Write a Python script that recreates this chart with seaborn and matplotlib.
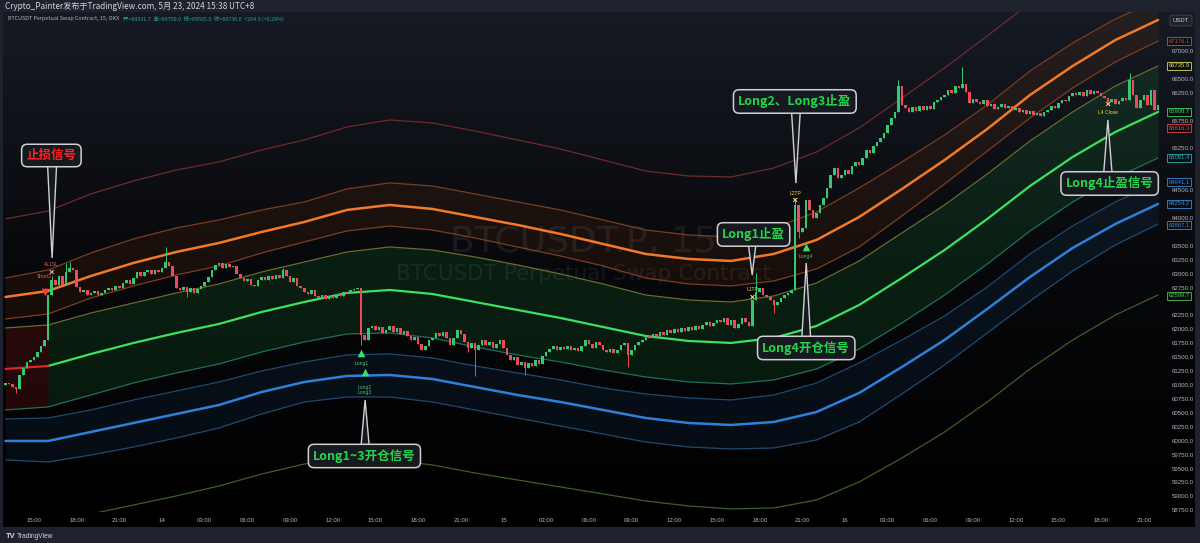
"""BTCUSDT.P 15m chart with multi-band envelope and signal callouts (TradingView style)."""

import numpy as np
import matplotlib
matplotlib.use("Agg")
import matplotlib.pyplot as plt
import matplotlib.transforms as mtransforms
from matplotlib.colors import LinearSegmentedColormap
from matplotlib.patches import Polygon
import seaborn as sns

# ---------------- data ----------------
# 15-minute closes, bar 0 = May 13 13:00
CLOSES = [
    61037, 61019, 60965, 60929, 61181, 61307, 61414, 61450, 61504, 61594, 61702, 61810,
    62618, 62887, 62797, 62959, 62797, 63031, 63103, 63067, 62761, 62672, 62708, 62618,
    62654, 62690, 62618, 62654, 62708, 62744, 62708, 62779, 62744, 62833, 62887, 62815,
    62923, 63031, 62959, 63031, 63067, 62995, 63067, 63031, 63103, 63211, 63139, 62959,
    62744, 62708, 62761, 62672, 62744, 62654, 62726, 62779, 62851, 62941, 63067, 63157,
    63193, 63103, 63175, 63121, 63139, 62995, 62923, 62869, 62905, 62797, 62779, 62887,
    62941, 62887, 62959, 62905, 62977, 62923, 63067, 62959, 62851, 62923, 62779, 62744,
    62672, 62636, 62708, 62600, 62564, 62618, 62546, 62600, 62564, 62636, 62600, 62672,
    62654, 62708, 62726, 62744, 61899, 61810, 62025, 62061, 61989, 62043, 61935, 61989,
    62061, 61953, 62025, 61917, 61971, 61881, 61810, 61863, 61738, 61630, 61702, 61810,
    61845, 61935, 61881, 61953, 61845, 61720, 61845, 61989, 61917, 61774, 61666, 61756,
    61630, 61720, 61810, 61720, 61774, 61666, 61738, 61810, 61666, 61540, 61450, 61504,
    61361, 61414, 61307, 61396, 61343, 61450, 61379, 61522, 61594, 61648, 61702, 61630,
    61684, 61648, 61702, 61630, 61666, 61612, 61702, 61810, 61738, 61666, 61774, 61720,
    61630, 61594, 61648, 61576, 61630, 61720, 61756, 61540, 61630, 61720, 61774, 61810,
    61881, 61845, 61917, 61881, 61953, 61899, 61989, 61935, 62007, 61953, 62025, 61971,
    62043, 61989, 62061, 62007, 62079, 62133, 62061, 62115, 62169, 62133, 62205, 62079,
    62169, 62025, 62097, 62205, 62133, 62061, 62528, 62672, 62744, 62618, 62582, 62528,
    62438, 62492, 62564, 62618, 62654, 62708, 64234, 63749, 63821, 64324, 64144, 64001,
    64090, 64234, 64360, 64540, 64773, 64899, 64719, 64773, 64863, 64791, 64935, 65006,
    64953, 65078, 65222, 65168, 65294, 65366, 65438, 65527, 65671, 65797, 65904, 66371,
    66030, 65976, 65904, 65994, 65922, 66012, 65940, 66012, 65958, 66084, 66120, 66174,
    66210, 66300, 66246, 66371, 66336, 66407, 66264, 66066, 66138, 66084, 66048, 66120,
    66012, 66048, 65958, 65994, 66048, 65976, 66012, 65940, 65976, 65904, 65940, 65869,
    65922, 65851, 65886, 65833, 65904, 65940, 66012, 65976, 66066, 66120, 66102, 66192,
    66246, 66210, 66264, 66192, 66300, 66228, 66282, 66246, 66192, 66156, 66084, 66138,
    66048, 66102, 66156, 66120, 66479, 66210, 65976, 66120, 66210, 66030, 66300, 65940,
    66030,
]
OPEN_0 = 61000
WICK_HI = {13: 62960, 17: 63193, 18: 63211, 45: 63480, 78: 63103, 211: 63013,
           222: 64360, 251: 66479, 269: 66713, 316: 66605}
WICK_LO = {3: 60858, 51: 62582, 100: 61720, 130: 61600, 132: 61163, 146: 61181,
           175: 61325, 216: 62294, 223: 63640}

# envelope: centre line and half-widths, sampled every 3 hours
BAND_BARS = list(range(0, 325, 12))
MID = [61289, 61343, 61558, 61756, 61935, 62097, 62312, 62492, 62654, 62708,
       62636, 62492, 62348, 62205, 62043, 61881, 61792, 61756, 61846, 62061,
       62439, 62923, 63426, 63983, 64575, 65096, 65545, 65905]
W_GREEN = [736, 736, 736, 718, 718, 718, 718, 718, 736, 772, 790, 808, 808, 790,
           772, 736, 736, 736, 754, 772, 790, 808, 808, 808, 808, 808, 826, 826]
W_INNER = [898, 934, 1006, 1024, 1042, 1042, 1060, 1078, 1114, 1149, 1149, 1149, 1131, 1114,
           1096, 1042, 1024, 1024, 1024, 1024, 1042, 1114, 1185, 1221, 1221, 1239, 1257, 1275]
W_THICK = [1293, 1347, 1401, 1437, 1455, 1455, 1437, 1437, 1491, 1527, 1527, 1527, 1527, 1509,
           1491, 1473, 1473, 1473, 1509, 1545, 1580, 1598, 1616, 1616, 1634, 1634, 1652, 1652]
W_OUTER = [1634, 1724, 1814, 1868, 1886, 1868, 1832, 1796, 1868, 1922, 1940, 1940, 1940, 1940,
           1922, 1904, 1904, 1904, 1976, 2047, 2101, 2083, 2065, 2047, 2065, 2047, 2029, 2012]
W_FAR = [2694, 2784, 2874, 2910, 2927, 2910, 2910, 2910, 2981, 3053, 3071, 3071, 3053, 3035,
         2999, 2963, 2963, 2981, 3053, 3125, 3179, 3233, 3269, 3287, 3287, 3287, 3287, 3287]

TIME_TICKS = list(range(8, 321, 12))
TIME_LABELS = ["15:00", "18:00", "21:00", "14", "03:00", "06:00", "09:00", "12:00", "15:00",
               "18:00", "21:00", "15", "03:00", "06:00", "09:00", "12:00", "15:00", "18:00",
               "21:00", "16", "03:00", "06:00", "09:00", "12:00", "15:00", "18:00", "21:00"]
PRICE_TICKS = np.arange(58750, 67251, 250)

# last values shown on the price scale
TAG_VALUES = [67176.1, 66735.9, 65908.7, 65616.3, 65081.4, 64641.1, 64254.2, 63867.1, 62599.7]
TAG_COLORS = ["#c0553a", "#d9d860", "#35d35a", "#e0474f", "#2bb0b8",
              "#3a86d6", "#3a86d6", "#3a86d6", "#4fc04f"]

# signals
UP_BARS, UP_PRICES = [100, 101, 225], [61576, 61235, 63480]
DN_BARS, DN_PRICES = [11], [62672]
X_BARS, X_PRICES = [13, 210, 222, 310], [63031, 62582, 64324, 66048]
X_COLORS = ["#f29a9a", "#f2d34a", "#f2d34a", "#f2d34a"]
SIG_TEXT = [("AL1SL", 13, 63157, "#e05a5a"), ("Short2", 11, 62941, "#e05a5a"),
            ("Long1", 100, 61379, "#4fbf6e"), ("Long2", 101, 60965, "#4fbf6e"),
            ("Long3", 101, 60858, "#4fbf6e"), ("L1TP", 210, 62708, "#f2d34a"),
            ("L2TP", 222, 64432, "#f2d34a"), ("Long4", 225, 63300, "#4fbf6e"),
            ("L4 Close", 310, 65904, "#f2d34a")]

# callouts: text, colour, target (bar, price), box centre (bar, price)
CALLOUTS = [
    ("止损信号", "#ff2222", (13.1, 63282), (12.9, 65123)),
    ("Long1~3开仓信号", "#22d64a", (101.1, 60732), (100.9, 59726)),
    ("Long1止盈", "#22d64a", (209.9, 62977), (210.3, 63705)),
    ("Long2、Long3止盈", "#22d64a", (222.2, 64629), (221.9, 66093)),
    ("Long4开仓信号", "#22d64a", (225.1, 63193), (225.1, 61666)),
    ("Long4止盈信号", "#22d64a", (309.9, 65761), (310.4, 64620)),
]

UP_COLOR, DN_COLOR = "#34c873", "#f0495d"
FRAME = "#1e222d"
TXT = "#b2b5be"

sns.set_theme(style="dark", rc={"axes.facecolor": "none", "figure.facecolor": FRAME})
plt.rcParams["font.family"] = ["Liberation Sans", "Noto Sans CJK SC", "DejaVu Sans"]
CJK = ["Noto Sans CJK SC", "DejaVu Sans"]

W, H = 1200, 543
fig = plt.figure(figsize=(W / 100, H / 100), dpi=100)

# chart pane background gradient
bg = fig.add_axes([3 / W, 1 - 527 / H, 1192 / W, 515 / H], zorder=0)
bg.imshow(np.linspace(0, 1, 256).reshape(-1, 1), aspect="auto", origin="upper",
          cmap=LinearSegmentedColormap.from_list("pane", ["#161a23", "#07080b", "#000000"]),
          extent=[0, 1, 0, 1])
bg.axis("off")

ax = fig.add_axes([3 / W, 1 - 512 / H, 1160 / W, 500 / H], zorder=1)
ax.set_facecolor("none")
ax.set_xlim(-0.7, 325.4)
ax.set_ylim(58720, 67700)
for s in ax.spines.values():
    s.set_visible(False)
ax.grid(False)

mid = np.array(MID)
wg, wi, wt, wo, wf = (np.array(a) for a in (W_GREEN, W_INNER, W_THICK, W_OUTER, W_FAR))

# band fills
ax.fill_between(BAND_BARS, mid + wi, mid + wo, color="#ff6a00", alpha=0.07, lw=0, zorder=1)
ax.fill_between(BAND_BARS, mid - wo, mid - wi, color="#2a78c8", alpha=0.09, lw=0, zorder=1)
ax.fill_between(BAND_BARS[1:], mid[1:] - wg[1:], mid[1:] + wg[1:], color="#1fbf4a",
                alpha=0.12, lw=0, zorder=1)
ax.fill_between(BAND_BARS[:2], mid[:2] - wg[:2], mid[:2] + wg[:2], color="#d42020",
                alpha=0.16, lw=0, zorder=1)


def line(y, color, lw, xs=BAND_BARS):
    sns.lineplot(x=xs, y=y, color=color, lw=lw, ax=ax, zorder=2, errorbar=None)


line(mid + wf, "#6e2b2b", 0.9)
line(mid + wo, "#7c3d22", 0.9)
line(mid + wt, "#f07a2a", 1.8)
line(mid + wi, "#7c3d22", 0.9)
line(mid + wg, "#6b6b30", 0.9)
line(mid[1:], "#3ee060", 1.6, BAND_BARS[1:])
line(mid[:2], "#e02525", 1.6, BAND_BARS[:2])
line(mid - wg, "#1d6e5e", 0.9)
line(mid - wi, "#1f4a70", 0.9)
line(mid - wt, "#2e80d8", 1.8)
line(mid - wo, "#1f4a70", 0.9)
line(mid - wf, "#3e5e2a", 0.9)

# candles
closes = np.array(CLOSES, dtype=float)
opens = np.concatenate([[OPEN_0], closes[:-1]])
bars = np.arange(len(closes))
highs = np.maximum(opens, closes)
lows = np.minimum(opens, closes)
for b, v in WICK_HI.items():
    highs[b] = v
for b, v in WICK_LO.items():
    lows[b] = v
cols = np.where(closes >= opens, UP_COLOR, DN_COLOR)
ax.vlines(bars, lows, highs, colors=cols, lw=0.7, zorder=3)
ax.bar(bars, closes - opens, bottom=opens, width=0.72, color=cols, lw=0, zorder=3)

# signal marks
ax.scatter(UP_BARS, UP_PRICES, marker="^", s=30, color="#3de06a", lw=0, zorder=4)
ax.scatter(DN_BARS, DN_PRICES, marker="v", s=30, color="#ff3b3b", lw=0, zorder=4)
ax.scatter(X_BARS, X_PRICES, marker="x", s=8, c=X_COLORS, lw=0.8, zorder=4)
for txt, b, p, c in SIG_TEXT:
    ax.text(b, p, txt, color=c, fontsize=3.6, ha="center", va="center", zorder=4)

# watermark
ax.text(0.5, 0.54, "BTCUSDT.P, 15", transform=ax.transAxes, ha="center", va="center",
        fontsize=26, color="white", alpha=0.07, family="DejaVu Sans", zorder=1.5)
ax.text(0.5, 0.476, "BTCUSDT Perpetual Swap Contract", transform=ax.transAxes, ha="center",
        va="center", fontsize=15.5, color="white", alpha=0.07, family="DejaVu Sans", zorder=1.5)

# callouts
for txt, col, (tx, ty), (cx, cy) in CALLOUTS:
    tri = Polygon([(tx - 1.4, cy), (tx + 1.4, cy), (tx, ty)], closed=True,
                  fc="#161a20", ec="#d0d0d0", lw=1.0, zorder=8)
    ax.add_patch(tri)
    ax.text(cx, cy, txt, color=col, fontsize=9, fontweight="bold", ha="center", va="center",
            family=CJK, zorder=9,
            bbox=dict(boxstyle="round,pad=0.38,rounding_size=0.45", fc="#161a20",
                      ec="#d0d0d0", lw=1.1))

# price scale: ticks hidden where a value tag sits on top
tags = np.array(TAG_VALUES)
shown = [v for v in PRICE_TICKS if np.min(np.abs(tags - v)) > 130]
ax.yaxis.tick_right()
ax.set_yticks(shown, [f"{v:.1f}" for v in shown])
ax.tick_params(axis="y", length=0, pad=6.5, labelsize=4.4, labelcolor=TXT)
ax.set_xticks(TIME_TICKS, TIME_LABELS)
ax.tick_params(axis="x", length=0, pad=4.5, labelsize=4.3, labelcolor=TXT)
ax.set_xlabel("")
ax.set_ylabel("")

tr = mtransforms.blended_transform_factory(ax.transAxes, ax.transData)
for v, c in zip(TAG_VALUES, TAG_COLORS):
    ax.text(1.0138, v, f"{v:.1f}", transform=tr, ha="center", va="center", fontsize=4.2,
            color=c, zorder=10, clip_on=False,
            bbox=dict(boxstyle="square,pad=0.25", fc="#0c0e13", ec=c, lw=0.6))
ax.text(1.0155, 0.983, "USDT", transform=ax.transAxes, ha="center", va="center",
        fontsize=4.2, color="#d1d4dc", zorder=10, clip_on=False,
        bbox=dict(boxstyle="round,pad=0.5,rounding_size=0.3", fc="#1e222d", ec="#434651", lw=0.6))

# header / footer
fig.text(5 / W, 1 - 6 / H, "Crypto_Painter发布于TradingView.com, 5月 23, 2024 15:38 UTC+8",
         fontsize=5.9, color="#d1d4dc", va="center", ha="left", family=CJK)
name = fig.text(8 / W, 1 - 18.5 / H, "BTCUSDT Perpetual Swap Contract, 15, OKX",
                fontsize=3.9, color=TXT, va="center", ha="left", family=CJK, zorder=5)
fig.canvas.draw()
end_x = name.get_window_extent().x1 / W
fig.text(end_x + 4 / W, 1 - 18.5 / H,
         "开=69531.7  高=69750.0  低=69505.0  收=69736.6  +204.9 (+0.29%)",
         fontsize=3.9, color="#26a69a", va="center", ha="left", family=CJK, zorder=5)
fig.text(6 / W, 1 - 536 / H, "TV", fontsize=5.5, fontweight="bold", color="#d1d4dc",
         va="center", ha="left")
fig.text(17 / W, 1 - 536 / H, "TradingView", fontsize=4.8, color="#d1d4dc",
         va="center", ha="left")

fig.savefig("out.png", dpi=100, facecolor=FRAME)
